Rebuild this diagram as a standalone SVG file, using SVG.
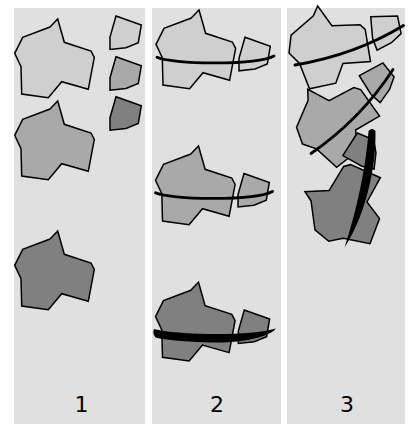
<svg xmlns="http://www.w3.org/2000/svg" width="414" height="424" viewBox="0 0 414 424">
<style>
.panel{fill:#e0e0e0}
.shape{stroke:#000;stroke-width:1.5}
.l{fill:#cfcfcf}
.m{fill:#a9a9a9}
.d{fill:#808080}
.cut{fill:none;stroke:#000;stroke-width:2.8;stroke-linecap:round}
.cutfill{fill:#000;stroke:none}
.lbl{font-family:"DejaVu Sans","Liberation Sans",sans-serif;font-size:22px;fill:#000;text-anchor:middle}
</style>
<defs>
<polygon id="big" points="-7.7,8 0,0 6.6,23.3 33.3,32 36.6,38.3 30.6,70.3 4,62.7 -9.4,78.7 -36,75 -36.7,47.7 -43,34.3 -35,18.3"/>
<polygon id="small" points="0,0 25.3,9 22.3,26.7 10,31.7 -6,33.5 -6,21"/>
</defs>
<rect width="414" height="424" fill="#fff"/>
<g id="panels">
<rect class="panel" x="14" y="8" width="131" height="416"/>
<rect class="panel" x="152" y="8" width="129" height="416"/>
<rect class="panel" x="287" y="8" width="118" height="416"/>
</g>
<g id="p1-big-light" class="shape"><use href="#big" class="l" transform="translate(57.7,19)"/></g>
<g id="p1-big-medium" class="shape"><use href="#big" class="m" transform="translate(57.7,101)"/></g>
<g id="p1-big-dark" class="shape"><use href="#big" class="d" transform="translate(57.7,231)"/></g>
<g id="p1-small-light" class="shape"><use href="#small" class="l" transform="translate(116,16)"/></g>
<g id="p1-small-medium" class="shape"><use href="#small" class="m" transform="translate(116,56.7)"/></g>
<g id="p1-small-dark" class="shape"><use href="#small" class="d" transform="translate(116,96.7)"/></g>
<g id="p2-big-light" class="shape"><use href="#big" class="l" transform="translate(199,10)"/></g>
<g id="p2-small-light" class="shape"><use href="#small" class="l" transform="translate(245,37.3)"/></g>
<g id="p2-big-medium" class="shape"><use href="#big" class="m" transform="translate(198.5,146)"/></g>
<g id="p2-small-medium" class="shape"><use href="#small" class="m" transform="translate(244,173.5)"/></g>
<g id="p2-big-dark" class="shape"><use href="#big" class="d" transform="translate(198.5,282.3)"/></g>
<g id="p2-small-dark" class="shape"><use href="#small" class="d" transform="translate(244.3,310)"/></g>
<g id="p3-big-light" class="shape"><use href="#big" class="l" transform="translate(317.7,6) rotate(-20)"/></g>
<g id="p3-small-light" class="shape"><use href="#small" class="l" transform="translate(370.7,16.7) rotate(-21)"/></g>
<g id="p3-big-medium" class="shape"><use href="#big" class="m" transform="translate(307.7,89.3) rotate(-46)"/></g>
<g id="p3-small-medium" class="shape"><use href="#small" class="m" transform="translate(359.3,75.7) rotate(-48)"/></g>
<g id="p3-big-dark" class="shape"><use href="#big" class="d" transform="translate(305,191.7) rotate(-77)"/></g>
<g id="p3-small-dark" class="shape"><use href="#small" class="d" transform="translate(342.8,155.6) rotate(-77)"/></g>
<g id="cuts">
<path class="cut" d="M157,57.3 C170,64 255,66 274,56"/>
<path class="cut" d="M155.5,192.8 C168.5,199.5 253.5,201.5 272.5,191.5"/>
<path class="cutfill" d="M154,329 C172,334.5 250,337 276,328.5 C271,335 250,343 212,342.5 C185,342 166,340 155.5,337.5 Q152,333.5 154,329 Z"/>
<path class="cut" d="M295,65 Q355,55 403.5,25.5"/>
<path class="cut" d="M311,153.5 Q361,119 393,69.5"/>
<path class="cutfill" d="M368.5,131 Q372,127 375.5,131 C376,165 367,213 344.5,247.5 C356,213 366,168 368.5,131 Z"/>
</g>
<g id="labels">
<text class="lbl" x="81.5" y="412">1</text>
<text class="lbl" x="217" y="412">2</text>
<text class="lbl" x="347" y="412">3</text>
</g>
</svg>
